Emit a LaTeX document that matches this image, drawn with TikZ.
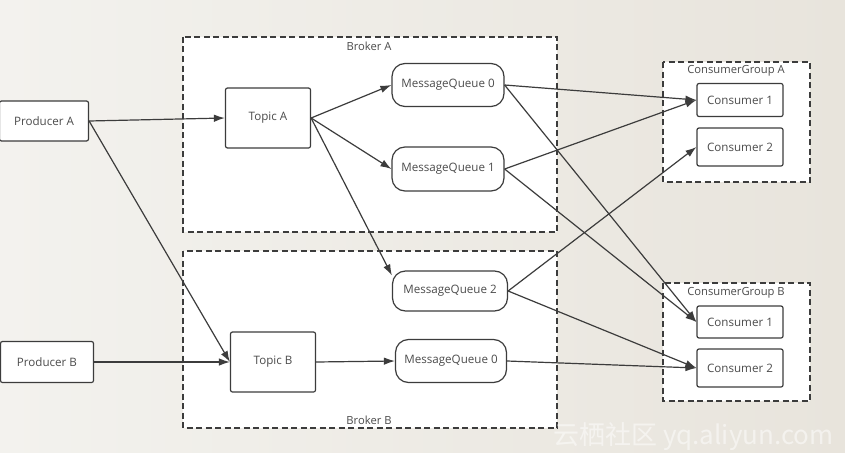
\documentclass[tikz,border=0pt]{standalone}
\usepackage{fontspec}
\setmainfont{Open Sans}
\newfontfamily\cjkfont{Noto Sans CJK SC}
\usetikzlibrary{arrows.meta}
\definecolor{linegray}{RGB}{60,60,60}
\definecolor{textgray}{RGB}{75,75,75}
\definecolor{paperlight}{RGB}{243,242,238}
\definecolor{paperdark}{RGB}{232,228,220}
\tikzset{
	box/.style={draw=linegray,line width=1.2pt,fill=white,rounded corners=2pt,
		text=textgray,font=\fontsize{11.6}{13}\selectfont,inner sep=0pt},
	queue/.style={box,rounded corners=13pt},
	group/.style={draw=linegray,line width=1.4pt,dash pattern=on 6pt off 3.5pt,fill=white},
	grouplabel/.style={text=textgray,font=\fontsize{11.2}{13}\selectfont,inner sep=0pt},
	link/.style={draw=linegray,line width=1.2pt,-{Latex[length=11pt,width=7.5pt]}}
}
\begin{document}
\begin{tikzpicture}[x=1pt,y=-1pt]
	\useasboundingbox (0,0) rectangle (845,452);
	\shade[left color=paperlight,right color=paperdark] (0,0) rectangle (845,452);
	% containers
	\draw[group] (183,37) rectangle (557,232);
	\draw[group] (183,251) rectangle (557,428);
	\draw[group] (663,62) rectangle (810,182);
	\draw[group] (663,283) rectangle (810,401);
	\node[grouplabel] (brokerA) at (369,46) {Broker A};
	\node[grouplabel] (brokerB) at (369,420) {Broker B};
	\node[grouplabel] (groupA) at (736,71) {ConsumerGroup A};
	\node[grouplabel] (groupB) at (736,293) {ConsumerGroup B};
	% producers and topics
	\node[box,minimum width=89,minimum height=40] (pA) at (44,121) {Producer A};
	\node[box,minimum width=93,minimum height=41] (pB) at (47,362) {Producer B};
	\node[box,minimum width=85,minimum height=60] (tA) at (268,118) {Topic A};
	\node[box,minimum width=85,minimum height=60] (tB) at (273,362) {Topic B};
	% queues
	\node[queue,minimum width=112,minimum height=43] (mq0a) at (448,85) {MessageQueue 0};
	\node[queue,minimum width=112,minimum height=44] (mq1a) at (448,169) {MessageQueue 1};
	\node[queue,minimum width=115,minimum height=40] (mq2a) at (450,291) {MessageQueue 2};
	\node[queue,minimum width=111,minimum height=43] (mq0b) at (451,361) {MessageQueue 0};
	% consumers
	\node[box,minimum width=86,minimum height=33] (cA1) at (740,100) {Consumer 1};
	\node[box,minimum width=86,minimum height=38] (cA2) at (740,147) {Consumer 2};
	\node[box,minimum width=86,minimum height=32] (cB1) at (740,322) {Consumer 1};
	\node[box,minimum width=86,minimum height=38] (cB2) at (740,368) {Consumer 2};
	% links
	\draw[link] (pA.east) -- (tA.west);
	\draw[link] (pA.east) -- (tB.west);
	\draw[link] (pB.east) -- (tB.west);
	\draw[link] (tA.east) -- (mq0a.west);
	\draw[link] (tA.east) -- (mq1a.west);
	\draw[link] (tA.east) -- (mq2a.165);
	\draw[link] (tB.east) -- (mq0b.west);
	\foreach \q/\c in {mq0a/cA1,mq0a/cB1,mq1a/cA1,mq1a/cB1,mq2a/cA2,mq2a/cB2,mq0b/cB2}
		\draw[link] (\q.east) -- (\c.west);
	\node[text=white,opacity=0.5,font=\cjkfont\fontsize{26}{28}\selectfont,anchor=west,inner sep=0pt] (mark) at (553,437) {云栖社区 yq.aliyun.com};
\end{tikzpicture}
\end{document}
